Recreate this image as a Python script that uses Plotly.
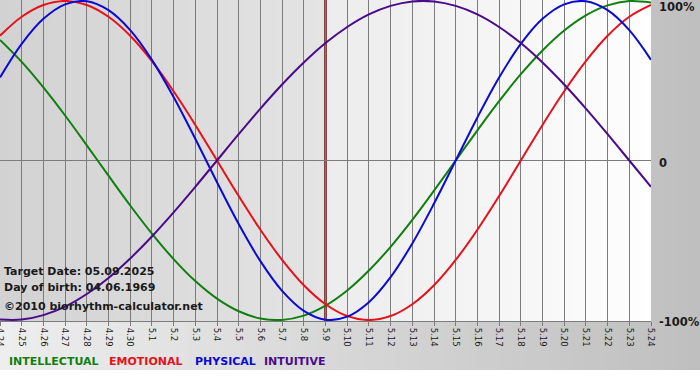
import plotly.graph_objects as go

# ---- data ----
dates = ["4.24", "4.25", "4.26", "4.27", "4.28", "4.29", "4.30",
         "5.1", "5.2", "5.3", "5.4", "5.5", "5.6", "5.7", "5.8", "5.9",
         "5.10", "5.11", "5.12", "5.13", "5.14", "5.15", "5.16", "5.17",
         "5.18", "5.19", "5.20", "5.21", "5.22", "5.23", "5.24"]

intellectual = [0.756, 0.618, 0.458, 0.282, 0.095, -0.095, -0.282, -0.458, -0.618, -0.756,
                -0.866, -0.945, -0.990, -0.999, -0.972, -0.910, -0.815, -0.690, -0.541, -0.372,
                -0.189, 0.0, 0.189, 0.372, 0.541, 0.690, 0.815, 0.910, 0.972, 0.999, 0.990]
emotional = [0.782, 0.901, 0.975, 1.0, 0.975, 0.901, 0.782, 0.623, 0.434, 0.223,
             0.0, -0.223, -0.434, -0.623, -0.782, -0.901, -0.975, -1.0, -0.975, -0.901,
             -0.782, -0.623, -0.434, -0.223, 0.0, 0.223, 0.434, 0.623, 0.782, 0.901, 0.975]
physical = [0.520, 0.731, 0.888, 0.979, 0.998, 0.942, 0.817, 0.631, 0.398, 0.136,
            -0.136, -0.398, -0.631, -0.817, -0.942, -0.998, -0.979, -0.888, -0.731, -0.520,
            -0.270, 0.0, 0.270, 0.520, 0.731, 0.888, 0.979, 0.998, 0.942, 0.817, 0.631]
intuitive = [-0.997, -0.997, -0.969, -0.916, -0.837, -0.736, -0.614, -0.476, -0.325, -0.165,
             0.0, 0.165, 0.325, 0.476, 0.614, 0.736, 0.837, 0.916, 0.969, 0.997,
             0.997, 0.969, 0.916, 0.837, 0.736, 0.614, 0.476, 0.325, 0.165, 0.0, -0.165]

series_names = ["INTELLECTUAL", "EMOTIONAL", "PHYSICAL", "INTUITIVE"]
series_values = [intellectual, emotional, physical, intuitive]
series_colors = ["#0f7f0f", "#e8101a", "#0a0ad2", "#4a0a8a"]

target_label = "5.9"
y_tick_values = [1, 0, -1]
y_tick_text = ["100%", "0", "-100%"]
info_lines = ["Target Date: 05.09.2025", "Day of birth: 04.06.1969",
              "\u00a92010 biorhythm-calculator.net"]

# ---- geometry ----
W, H = 700, 380
PL, PR, PT, PB = 0, 651, 0, 321   # plot area in pixels
pw, ph = PR - PL, PB - PT


def px_x(px):
    return (px - PL) / pw


def px_y(py):
    return (PB - py) / ph


def lerp_col(c0, c1, t):
    a = [int(c0[i:i + 2], 16) for i in (1, 3, 5)]
    b = [int(c1[i:i + 2], 16) for i in (1, 3, 5)]
    return "#%02x%02x%02x" % tuple(round(a[k] + (b[k] - a[k]) * t) for k in range(3))


fig = go.Figure()


def gradient(x0, x1, y0, y1, c0, c1, steps):
    for i in range(steps):
        xa = x0 + (x1 - x0) * i / steps
        xb = x0 + (x1 - x0) * (i + 1) / steps
        fig.add_shape(type="rect", xref="paper", yref="paper",
                      x0=xa, x1=min(xb + 0.002, x1), y0=y0, y1=y1,
                      fillcolor=lerp_col(c0, c1, (i + 0.5) / steps),
                      line_width=0, layer="below")


n = len(dates)
t_idx = dates.index(target_label)
t_frac = t_idx / (n - 1)

# outer gray background
gradient(px_x(0), px_x(W), px_y(370), px_y(0), "#eeeeee", "#bfbfbf", 60)
# plot area: left of target darker, right lighter
gradient(0, t_frac, 0, 1, "#d2d2d2", "#e4e4e4", 40)
gradient(t_frac, 1, 0, 1, "#ececec", "#fefefe", 40)

# target date line (category index of the target date)
fig.add_shape(type="line", xref="x", yref="paper", x0=t_idx, x1=t_idx,
              y0=0, y1=1, line=dict(color="#5e0c0c", width=2.5), layer="between")

for name, vals, col in zip(series_names, series_values, series_colors):
    fig.add_trace(go.Scatter(x=dates, y=vals, mode="lines", name=name,
                             line=dict(color=col, width=2, shape="spline", smoothing=1.0),
                             hoverinfo="skip"))

# y labels at the right
shifts = [-6, -2, -2]
for v, txt, s in zip(y_tick_values, y_tick_text, shifts):
    fig.add_annotation(x=px_x(657), y=v, xref="paper", yref="y", text=txt,
                       showarrow=False, xanchor="left", yanchor="middle", yshift=s,
                       font=dict(family="DejaVu Sans", size=11.5, color="#1a1a1a", weight="bold"))

# info text
for txt, py in zip(info_lines, [271, 287, 306]):
    fig.add_annotation(x=px_x(2), y=px_y(py), xref="paper", yref="paper", text=txt,
                       showarrow=False, xanchor="left", yanchor="middle",
                       font=dict(family="DejaVu Sans", size=11, color="#1a1a1a", weight="bold"))

# legend text
for txt, col, lx in zip(series_names, series_colors, [7, 107, 193, 262]):
    fig.add_annotation(x=px_x(lx), y=px_y(362), xref="paper", yref="paper", text=txt,
                       showarrow=False, xanchor="left", yanchor="middle",
                       font=dict(family="DejaVu Sans", size=11, color=col, weight="bold"))

fig.update_layout(
    width=W, height=H,
    margin=dict(l=PL, r=W - PR, t=PT, b=H - PB, pad=0),
    paper_bgcolor="white", plot_bgcolor="rgba(0,0,0,0)",
    showlegend=False,
    xaxis=dict(type="category", range=[0, n - 1], showgrid=True, gridcolor="#7c7c7c",
               gridwidth=1, ticks="outside", ticklen=4, tickcolor="#7c7c7c",
               tickangle=90, tickfont=dict(family="DejaVu Sans", size=8.5, color="#1a1a1a"),
               showline=True, linecolor="#7c7c7c", linewidth=1, automargin=False,
               fixedrange=True),
    yaxis=dict(range=[-1.006, 1.006], showgrid=False, zeroline=True,
               zerolinecolor="#7c7c7c", zerolinewidth=1, showticklabels=False,
               ticks="", automargin=False, fixedrange=True),
)

fig.write_html("out.html", config={"displayModeBar": False},
               post_script="document.body.style.margin='0';document.body.style.overflow='hidden';")
